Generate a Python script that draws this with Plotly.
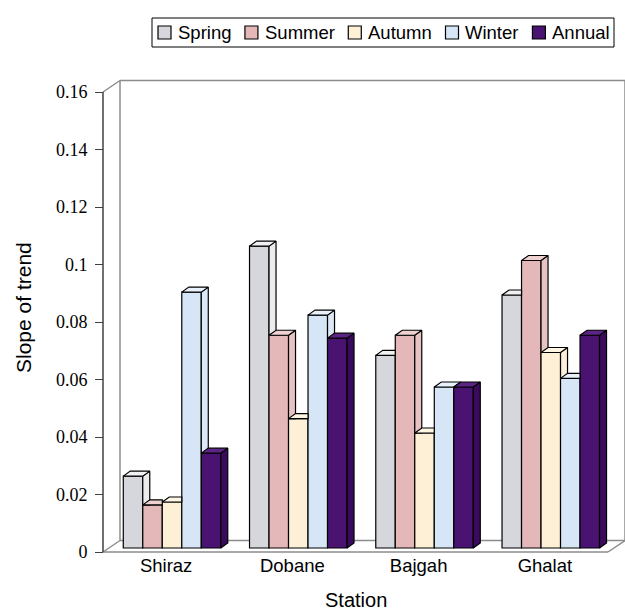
import plotly.graph_objects as go

# ---- data -------------------------------------------------------------
stations = ["Shiraz", "Dobane", "Bajgah", "Ghalat"]
seasons = ["Spring", "Summer", "Autumn", "Winter", "Annual"]

spring = [0.025, 0.105, 0.067, 0.088]
summer = [0.015, 0.074, 0.074, 0.100]
autumn = [0.016, 0.045, 0.040, 0.068]
winter = [0.089, 0.081, 0.056, 0.059]
annual = [0.033, 0.073, 0.056, 0.074]

y_tick_vals = [0, 0.02, 0.04, 0.06, 0.08, 0.10, 0.12, 0.14, 0.16]
y_tick_text = ["0", "0.02", "0.04", "0.06", "0.08", "0.1", "0.12", "0.14", "0.16"]

series = [spring, summer, autumn, winter, annual]

# face colours per series: (front, side, top)
face_colors = [
    ("#d6d7dc", "#ececef", "#f1f1f4"),
    ("#e4b8b9", "#e8c3c3", "#f0d1d1"),
    ("#fdf0d6", "#fbefd9", "#fff6e4"),
    ("#d6e6f7", "#dce8f6", "#e9f2fc"),
    ("#4a1371", "#3a0b5d", "#5b2485"),
]

SANS = "'Liberation Sans', Arial, sans-serif"
SERIF = "'Liberation Serif', 'Times New Roman', serif"

# ---- geometry (pixels) ---------------------------------------------------
W, H = 625, 615
FRONT_L, FRONT_R = 103, 608      # front plane, left / right edge
FRONT_ZERO = 552                 # front plane, y of value 0
PX_PER_Y = 57.5 / 0.02           # pixels per value unit
PX_PER_CAT = (FRONT_R - FRONT_L) / len(stations)
WALL_DX, WALL_DY = 17, 11.5      # depth of the floor / back wall
PLANE_DX, PLANE_DY = 5.9, 4.0    # where the bar fronts sit in depth
BAR_DX, BAR_DY = 7.0, 5.0        # depth of each bar
BAR_W_PX = 19.5

PLOT_L, PLOT_R, PLOT_T, PLOT_B = 98, 625, 78, 557
plot_w = PLOT_R - PLOT_L
plot_h = PLOT_B - PLOT_T


def dx(px):
    return px / PX_PER_CAT


def dy(px):
    return px / PX_PER_Y


def paper_x(px):
    return (px - PLOT_L) / plot_w


def paper_y(py):
    return (PLOT_B - py) / plot_h


x_lo = -0.5 - dx(FRONT_L - PLOT_L)
x_hi = -0.5 + dx(PLOT_R - FRONT_L)
y_lo = -dy(PLOT_B - FRONT_ZERO)
y_hi = dy(FRONT_ZERO - PLOT_T)

bw = dx(BAR_W_PX)
p_dx, p_dy = dx(PLANE_DX), dy(PLANE_DY)
b_dx, b_dy = dx(BAR_DX), dy(BAR_DY)
w_dx, w_dy = dx(WALL_DX), dy(WALL_DY)

fig = go.Figure()

# front faces of the bars
for i, (name, vals) in enumerate(zip(seasons, series)):
    fig.add_trace(go.Bar(
        name=name,
        x=[k + p_dx + (i - 2) * bw for k in range(len(stations))],
        y=vals,
        base=p_dy,
        width=bw,
        marker=dict(color=face_colors[i][0], line=dict(color="black", width=1.2)),
        showlegend=False,
    ))

# side and top faces (parts hidden by the neighbouring bar are left out)
for k in range(len(stations)):
    for i, vals in enumerate(series):
        v = vals[k]
        L = k + p_dx + (i - 2.5) * bw
        R = L + bw
        top = v + p_dy
        nxt = series[i + 1][k] + p_dy if i + 1 < len(series) else None
        if nxt is None:
            sx = [R, R + b_dx, R + b_dx, R, R]
            sy = [p_dy, p_dy + b_dy, top + b_dy, top, p_dy]
        elif top > nxt:
            sx = [R, R + b_dx, R + b_dx, R, R]
            sy = [nxt, nxt, top + b_dy, top, nxt]
        else:
            sx = sy = None
        if sx:
            fig.add_trace(go.Scatter(
                x=sx, y=sy, mode="lines", fill="toself",
                fillcolor=face_colors[i][1],
                line=dict(color="black", width=1.2),
                showlegend=False, hoverinfo="skip"))
        if nxt is not None and nxt > top:
            tx = [L, R, R, L + b_dx, L]
        else:
            tx = [L, R, R + b_dx, L + b_dx, L]
        ty = [top, top, top + b_dy, top + b_dy, top]
        fig.add_trace(go.Scatter(
            x=tx, y=ty, mode="lines", fill="toself",
            fillcolor=face_colors[i][2],
            line=dict(color="black", width=1.2),
            showlegend=False, hoverinfo="skip"))

# floor and back wall outline
grey = "#8c8c8c"
xl, xr = -0.5, len(stations) - 0.5
ytop = y_tick_vals[-1]
frame = [
    (xl + w_dx, w_dy, xl + w_dx, ytop + w_dy),
    (xl + w_dx, ytop + w_dy, xr + w_dx, ytop + w_dy),
    (xr + w_dx, w_dy, xr + w_dx, ytop + w_dy),
    (xl, ytop, xl + w_dx, ytop + w_dy),
    (xl + w_dx, w_dy, xr + w_dx, w_dy),
    (xl, 0, xr, 0),
    (xl, 0, xl + w_dx, w_dy),
    (xr, 0, xr + w_dx, w_dy),
]
shapes = [dict(type="line", xref="x", yref="y", x0=a, y0=b, x1=c, y1=d,
               line=dict(color=grey, width=1.5), layer="below")
          for a, b, c, d in frame]
shapes.append(dict(type="line", xref="x", yref="y", x0=xl, y0=0, x1=xl, y1=ytop,
                   line=dict(color="#404040", width=1.5), layer="below"))

# ---- legend: swatch + label per season, laid out left to right ---------
LEG_FONT = 18.5
# Arial advance widths (em) for the glyphs in the legend labels
ADV = {"S": .667, "p": .556, "r": .333, "i": .222, "n": .556, "g": .556,
       "u": .556, "m": .833, "e": .556, "A": .667, "t": .278, "W": .944,
       "a": .556, "l": .222}
LEG_L, LEG_R, LEG_T, LEG_B = 152, 614, 18, 47
SW, SW_GAP, PAD = 13, 5, 6
text_w = [sum(ADV[c] for c in s) * LEG_FONT for s in seasons]
free = (LEG_R - LEG_L) - 2 * PAD - len(seasons) * (SW + SW_GAP) - sum(text_w)
item_gap = free / (len(seasons) - 1)

shapes.append(dict(type="rect", xref="paper", yref="paper",
                   x0=paper_x(LEG_L), x1=paper_x(LEG_R),
                   y0=paper_y(LEG_B), y1=paper_y(LEG_T),
                   line=dict(color="black", width=1), fillcolor="white"))
annotations = []
cx = LEG_L + PAD
cy = (LEG_T + LEG_B) / 2
for i, name in enumerate(seasons):
    shapes.append(dict(type="rect", xref="paper", yref="paper",
                       x0=paper_x(cx), x1=paper_x(cx + SW),
                       y0=paper_y(cy + SW / 2), y1=paper_y(cy - SW / 2),
                       line=dict(color="black", width=1.2),
                       fillcolor=face_colors[i][0]))
    annotations.append(dict(text=name, xref="paper", yref="paper",
                            x=paper_x(cx + SW + SW_GAP), y=paper_y(cy),
                            xanchor="left", yanchor="middle", showarrow=False,
                            font=dict(family=SANS, size=LEG_FONT)))
    cx += SW + SW_GAP + text_w[i] + item_gap

annotations += [
    dict(text="Slope of trend", xref="paper", yref="paper",
         x=paper_x(23), y=paper_y(308), xanchor="center", yanchor="middle",
         textangle=-90, showarrow=False, font=dict(family=SANS, size=21)),
    dict(text="Station", xref="paper", yref="paper",
         x=paper_x((FRONT_L + FRONT_R) / 2), y=paper_y(600),
         xanchor="center", yanchor="middle",
         showarrow=False, font=dict(family=SANS, size=20)),
]

fig.update_layout(
    width=W, height=H,
    margin=dict(l=PLOT_L, r=W - PLOT_R, t=PLOT_T, b=H - PLOT_B, pad=0),
    paper_bgcolor="white", plot_bgcolor="white",
    barmode="overlay",
    showlegend=False,
    shapes=shapes,
    annotations=annotations,
    font=dict(family=SANS, size=16, color="black"),
    xaxis=dict(
        range=[x_lo, x_hi], showgrid=False, zeroline=False, showline=False,
        tickvals=list(range(len(stations))), ticktext=stations, ticks="",
        anchor="free", position=paper_y(FRONT_ZERO),
        tickfont=dict(family=SANS, size=18.5), fixedrange=True,
    ),
    yaxis=dict(
        range=[y_lo, y_hi], showgrid=False, zeroline=False, showline=False,
        tickvals=y_tick_vals, ticktext=y_tick_text,
        ticks="outside", ticklen=8, tickwidth=1.3, tickcolor="#404040",
        ticklabelstandoff=4,
        tickfont=dict(family=SERIF, size=18),
        anchor="free", position=paper_x(FRONT_L), fixedrange=True,
    ),
)

fig.write_html("out.html")
